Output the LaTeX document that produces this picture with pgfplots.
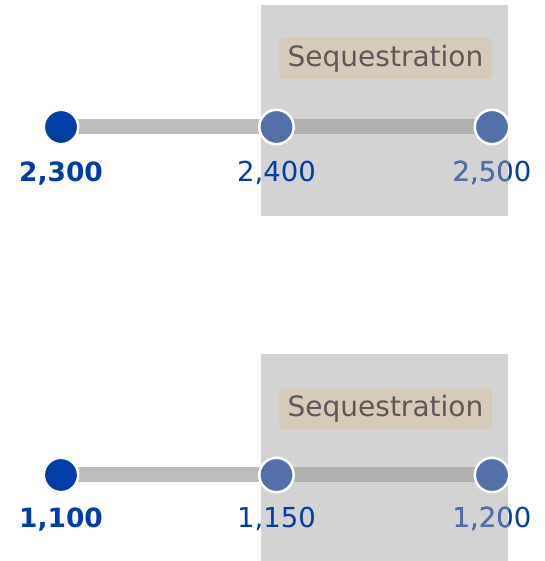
\documentclass[border=0pt]{standalone}
\usepackage{pgfplots}
\pgfplotsset{compat=1.18}
\usepackage{fontspec}
\setmainfont{DejaVu Sans}
\definecolor{darkblue}{HTML}{003DA5}
\definecolor{midblue}{HTML}{5470A8}
\definecolor{linegray}{HTML}{BDBDBD}
\definecolor{linegrayin}{HTML}{B0B0B0}
\definecolor{boxgray}{HTML}{D3D3D3}
\definecolor{tagfill}{HTML}{D5CBB8}
\definecolor{tagtext}{HTML}{5A5A5A}

\pgfplotsset{
  dumb/.style={at={(0,0)}, anchor=south west, width=544pt, height=561pt,
    scale only axis, axis lines=none, ymin=0, ymax=561, clip=false,
    xtick=\empty, ytick=\empty},
  bar/.style={line width=15pt},
  dot/.style={only marks, mark=*, mark size=17.2pt,
    mark options={draw=white, line width=2.5pt, fill=#1}},
}
\tikzset{
  num/.style={font=\fontsize{27.5}{30}\selectfont, anchor=base, inner sep=0pt},
  tag/.style={fill=tagfill, rounded corners=4pt, minimum width=213pt,
    minimum height=41pt, inner sep=0pt, text=tagtext,
    font=\fontsize{28}{30}\selectfont},
}

\begin{document}
\begin{tikzpicture}
\useasboundingbox (0,0) rectangle (544pt,561pt);

% top panel
\begin{axis}[dumb, xmin=2271.69, xmax=2524.13]
  \fill[boxgray] (axis cs:2392.80,345) rectangle (axis cs:2507.42,556);
  \node[tag] at (axis cs:2450.58,502.5) {Sequestration};
  \addplot[linegray, bar] coordinates {(2300,434) (2400,434)};
  \addplot[linegrayin, bar] coordinates {(2400,434) (2500,434)};
  \addplot[dot=darkblue] coordinates {(2300,434)};
  \addplot[dot=midblue] coordinates {(2400,434) (2500,434)};
  \node[num, text=darkblue, font=\bfseries\fontsize{26.5}{30}\selectfont] at (axis cs:2300,379) {2,300};
  \node[num, text=darkblue] at (axis cs:2400,379) {2,400};
  \node[num, text=darkblue] at (axis cs:2500,379) {2,500};
  \begin{scope}
    \clip (axis cs:2392.80,345) rectangle (axis cs:2507.42,556);
    \node[num, text=midblue] at (axis cs:2500,379) {2,500};
  \end{scope}
\end{axis}

% bottom panel
\begin{axis}[dumb, xmin=1085.85, xmax=1212.07]
  \fill[boxgray] (axis cs:1146.41,0) rectangle (axis cs:1203.72,207);
  \node[tag] at (axis cs:1175.29,152) {Sequestration};
  \addplot[linegray, bar] coordinates {(1100,86) (1150,86)};
  \addplot[linegrayin, bar] coordinates {(1150,86) (1200,86)};
  \addplot[dot=darkblue] coordinates {(1100,86)};
  \addplot[dot=midblue] coordinates {(1150,86) (1200,86)};
  \node[num, text=darkblue, font=\bfseries\fontsize{26.5}{30}\selectfont] at (axis cs:1100,33) {1,100};
  \node[num, text=darkblue] at (axis cs:1150,33) {1,150};
  \node[num, text=darkblue] at (axis cs:1200,33) {1,200};
  \begin{scope}
    \clip (axis cs:1146.41,0) rectangle (axis cs:1203.72,207);
    \node[num, text=midblue] at (axis cs:1200,33) {1,200};
  \end{scope}
\end{axis}
\end{tikzpicture}
\end{document}
